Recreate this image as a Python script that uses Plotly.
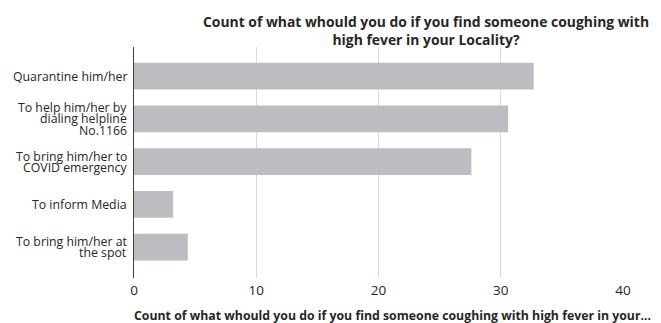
import plotly.graph_objects as go

categories = [
    "Quarantine him/her",
    "To help him/her by<br>dialing helpline<br>No.1166",
    "To bring him/her to<br>COVID emergency",
    "To inform Media",
    "To bring him/her at<br>the spot",
]
counts = [32.7, 30.6, 27.6, 3.2, 4.4]
x_ticks = [0, 10, 20, 30, 40]

title_text = "Count of what whould you do if you find someone coughing with<br>high fever in your Locality?"
x_title = "Count of what whould you do if you find someone coughing with high fever in your..."

FONT = "Open Sans"
TXT = "#262626"
OFF = 8  # page body margin offset

W, H = 661 - OFF, 323 - OFF
L, R, T, B = 134, 623.3, 47.3, 278.3

fig = go.Figure()
fig.add_trace(go.Bar(
    x=counts, y=categories, orientation="h",
    marker=dict(color="#bcbdc1", line=dict(width=0)),
    width=0.625,
    hoverinfo="x+y",
))

annotations = []
line_h = 11.2
for cat in categories:
    lines = cat.split("<br>")
    n = len(lines)
    for i, ln in enumerate(lines):
        annotations.append(dict(
            x=0, xref="paper", xanchor="right", xshift=-5,
            y=cat, yref="y", yanchor="middle",
            yshift=((n - 1) / 2 - i) * line_h,
            text=ln, showarrow=False,
            font=dict(family=FONT, size=12.3, color=TXT),
        ))

# x-axis title as annotation
annotations.append(dict(
    x=(393 - L) / (R - L), xref="paper", xanchor="center",
    y=0, yref="paper", yanchor="middle", yshift=-(316 - B),
    text="<b>" + x_title + "</b>", showarrow=False,
    font=dict(family=FONT, size=12.3, color=TXT),
))

fig.update_layout(
    width=W, height=H,
    margin=dict(l=L - OFF, r=W - (R - OFF), t=T - OFF, b=H - (B - OFF)),
    paper_bgcolor="white", plot_bgcolor="white",
    showlegend=False,
    bargap=0.375,
    title=dict(
        text="<b>" + title_text.replace("<br>", "</b><br><b>") + "</b>",
        x=(426 - OFF) / W, xanchor="center", xref="container",
        y=1 - (27 - OFF) / H, yanchor="middle", yref="container",
        font=dict(family=FONT, size=13.9, color=TXT),
    ),
    xaxis=dict(
        range=[0, 40], tickvals=x_ticks, ticktext=[str(v) for v in x_ticks],
        showgrid=True, gridcolor="#d9d9d9", gridwidth=1,
        zeroline=False, showline=False, ticks="",
        ticklabelstandoff=2,
        tickfont=dict(family=FONT, size=13.5, color=TXT),
        fixedrange=True,
    ),
    yaxis=dict(
        categoryorder="array", categoryarray=categories,
        range=[4.72, -0.68],
        showticklabels=False, ticks="",
        showline=True, linecolor="#404040", linewidth=1,
        showgrid=False, zeroline=False,
        fixedrange=True,
    ),
    annotations=annotations,
)

fig.write_html("out.html")
